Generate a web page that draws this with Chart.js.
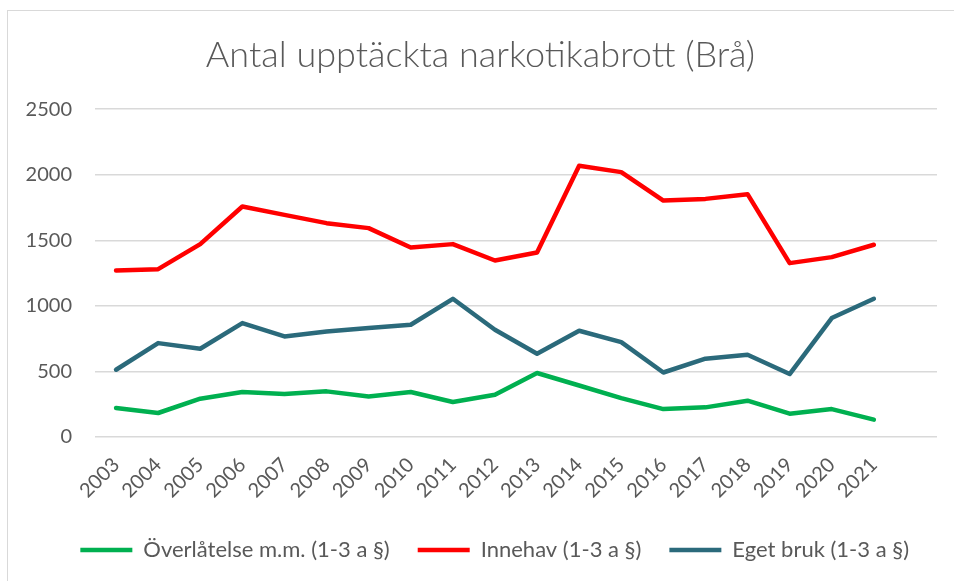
<!DOCTYPE html>
<html>
<head>
<meta charset="utf-8">
<script src="https://cdn.jsdelivr.net/npm/chart.js@4.4.1/dist/chart.umd.min.js"></script>
<style>
  html, body { margin: 0; padding: 0; background: #fff; overflow: hidden; }
  #wrap { position: relative; width: 954px; height: 581px; }
  #frame { position: absolute; left: 7px; top: 10px; width: 1000px; height: 1000px; border: 1.5px solid #d9d9d9; box-sizing: border-box; }
  canvas { position: absolute; left: 0; top: 0; }
</style>
</head>
<body>
<div id="wrap">
  <div id="frame"></div>
  <canvas id="c" width="954" height="581"></canvas>
</div>
<script>
const years = ['2003','2004','2005','2006','2007','2008','2009','2010','2011','2012','2013','2014','2015','2016','2017','2018','2019','2020','2021',''];
const overlatelse = [221,183,292,343,328,348,309,343,267,322,488,393,297,213,226,277,178,213,132];
const innehav = [1270,1280,1471,1758,1694,1631,1593,1445,1471,1346,1407,2068,2020,1803,1816,1852,1326,1372,1466];
const egetBruk = [513,716,673,869,767,805,831,856,1054,818,635,810,724,492,597,627,480,907,1054];
const seriesNames = ['Överlåtelse m.m. (1-3 a §)', 'Innehav (1-3 a §)', 'Eget bruk (1-3 a §)'];
const yTicks = [0,500,1000,1500,2000,2500];
const titleText = 'Antal upptäckta narkotikabrott (Brå)';

const colors = ['#00B050', '#FF0000', '#2B6A7B'];
const txt = '#595959';
const fam = 'Lato, "Noto Sans", sans-serif';
const padLeft = 24, padRight = 17, padBottom = 10;
const plotLeft = 95, plotBottom = 437;

function ds(label, data, color) {
  return {
    label, data,
    borderColor: color, backgroundColor: color,
    borderWidth: 4.5, tension: 0, pointRadius: 0, pointHoverRadius: 0,
    borderCapStyle: 'round', borderJoinStyle: 'round', fill: false
  };
}

new Chart(document.getElementById('c'), {
  type: 'line',
  data: {
    labels: years,
    datasets: [
      ds(seriesNames[0], overlatelse, colors[0]),
      ds(seriesNames[1], innehav, colors[1]),
      ds(seriesNames[2], egetBruk, colors[2])
    ]
  },
  options: {
    responsive: false, animation: false, devicePixelRatio: 1,
    layout: { padding: { left: padLeft, right: padRight, top: 0, bottom: padBottom } },
    plugins: {
      tooltip: { enabled: false },
      title: {
        display: true, text: titleText, color: txt,
        font: { family: fam, size: 36, weight: '300', lineHeight: 1.2 },
        padding: { top: 34, bottom: 32 }
      },
      legend: {
        display: true, position: 'bottom', align: 'end',
        labels: {
          usePointStyle: true, pointStyle: 'line', pointStyleWidth: 52,
          color: txt, font: { family: fam, size: 22 }, padding: 28
        }
      }
    },
    scales: {
      x: {
        offset: true,
        grid: { display: false },
        border: { display: false },
        ticks: { color: txt, font: { family: fam, size: 20 }, minRotation: 45, maxRotation: 45, autoSkip: false, padding: 8 },
        afterFit: (s) => { s.height = s.chart.height - padBottom - s.chart.legend.height - plotBottom; }
      },
      y: {
        min: 0, max: 2500,
        afterBuildTicks: (s) => { s.ticks = yTicks.map(v => ({ value: v })); },
        grid: { color: '#d9d9d9', lineWidth: 1.5, drawTicks: false },
        border: { display: false },
        ticks: { color: txt, font: { family: fam, size: 20 }, padding: 23, callback: (v) => String(v) },
        afterFit: (s) => { s.width = plotLeft - padLeft; }
      }
    }
  }
});
</script>
</body>
</html>
